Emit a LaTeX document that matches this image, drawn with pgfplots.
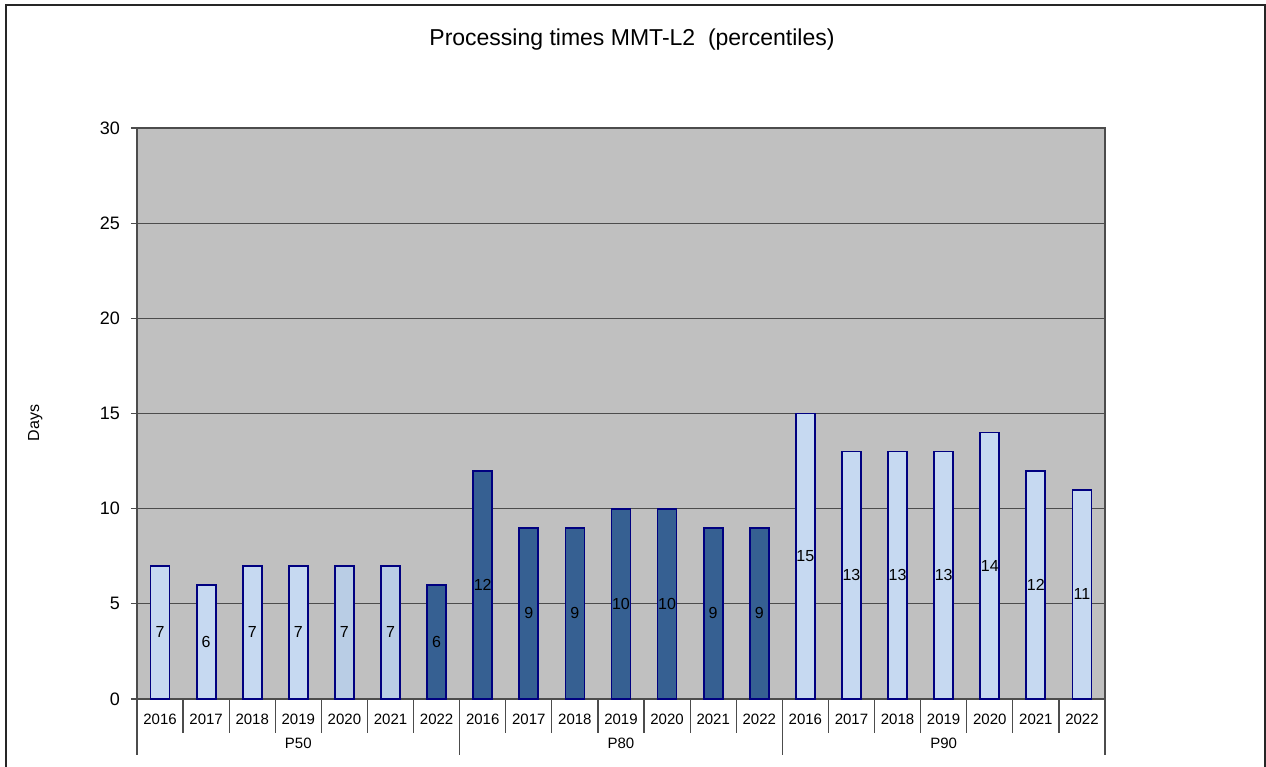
\documentclass[border=0pt]{standalone}
\usepackage{fontspec}
\setmainfont{Liberation Sans}
\usepackage{pgfplots}
\pgfplotsset{compat=1.18}
\definecolor{barlight}{RGB}{198,217,241}
\definecolor{barmid}{RGB}{185,205,229}
\definecolor{bardark}{RGB}{54,96,146}
\definecolor{plotbg}{RGB}{192,192,192}
\definecolor{edge}{RGB}{0,0,128}

\begin{document}
\begin{tikzpicture}
\useasboundingbox (0,0) rectangle (633pt,383.5pt);
% outer chart frame (open at the bottom, as in the cropped reference)
\draw[line width=0.9pt, black!85] (3pt,-2pt) -- (3pt,381pt) -- (632.5pt,381pt) -- (632.5pt,-2pt);
\node[font=\fontsize{11.5}{13}\selectfont] at (316pt,363.5pt) {Processing times MMT-L2\ \ (percentiles)};
\begin{axis}[
  at={(68.5pt,34pt)}, anchor=south west,
  scale only axis, width=484pt, height=285.5pt,
  ybar, bar width=9.5pt, bar shift=0pt,
  xmin=-0.5, xmax=20.5, ymin=0, ymax=30,
  ytick={0,5,...,30}, ymajorgrids,
  grid style={black!70, line width=0.5pt},
  axis background/.style={fill=plotbg},
  axis line style={black!70, line width=0.6pt},
  tick pos=left, tick align=outside,
  major tick length=3pt,
  xtick={0,...,20},
  xticklabels={2016,2017,2018,2019,2020,2021,2022,2016,2017,2018,2019,2020,2021,2022,2016,2017,2018,2019,2020,2021,2022},
  major x tick style={draw=none},
  minor xtick={-0.5,0.5,...,20.5},
  minor tick length=17pt,
  minor x tick style={black!70, line width=0.6pt},
  major y tick style={black!70, line width=0.6pt},
  xticklabel style={font=\fontsize{7.5}{9}\selectfont, yshift=-1pt},
  yticklabel style={font=\fontsize{9}{11}\selectfont, xshift=-2pt},
  /pgf/number format/assume math mode=true,
  ylabel={Days},
  ylabel style={font=\fontsize{8}{10}\selectfont, at={(axis description cs:-0.105,0.483)}, anchor=center},
  nodes near coords,
  visualization depends on=y \as \rawy,
  every node near coord/.append style={font=\fontsize{8}{10}\selectfont, anchor=center, shift={(axis direction cs:0,-\rawy/2)}},
  clip=false,
]
% P50 2016-2019, P90 2016-2022
\addplot[fill=barlight, draw=edge, line width=0.9pt] coordinates
  {(0,7)(1,6)(2,7)(3,7)(14,15)(15,13)(16,13)(17,13)(18,14)(19,12)(20,11)};
% P50 2020-2021
\addplot[fill=barmid, draw=edge, line width=0.9pt] coordinates
  {(4,7)(5,7)};
% P50 2022, P80 2016-2022
\addplot[fill=bardark, draw=edge, line width=0.9pt] coordinates
  {(6,6)(7,12)(8,9)(9,9)(10,10)(11,10)(12,9)(13,9)};
% group separators and labels
\draw[black!70, line width=0.6pt] (axis cs:-0.5,0) -- ([yshift=-28pt]axis cs:-0.5,0);
\draw[black!70, line width=0.6pt] (axis cs:6.5,0) -- ([yshift=-28pt]axis cs:6.5,0);
\draw[black!70, line width=0.6pt] (axis cs:13.5,0) -- ([yshift=-28pt]axis cs:13.5,0);
\draw[black!70, line width=0.6pt] (axis cs:20.5,0) -- ([yshift=-28pt]axis cs:20.5,0);
\node[font=\fontsize{7.5}{9}\selectfont] at (axis cs:3,0)  [yshift=-22pt] {P50};
\node[font=\fontsize{7.5}{9}\selectfont] at (axis cs:10,0) [yshift=-22pt] {P80};
\node[font=\fontsize{7.5}{9}\selectfont] at (axis cs:17,0) [yshift=-22pt] {P90};
\end{axis}
\end{tikzpicture}
\end{document}
